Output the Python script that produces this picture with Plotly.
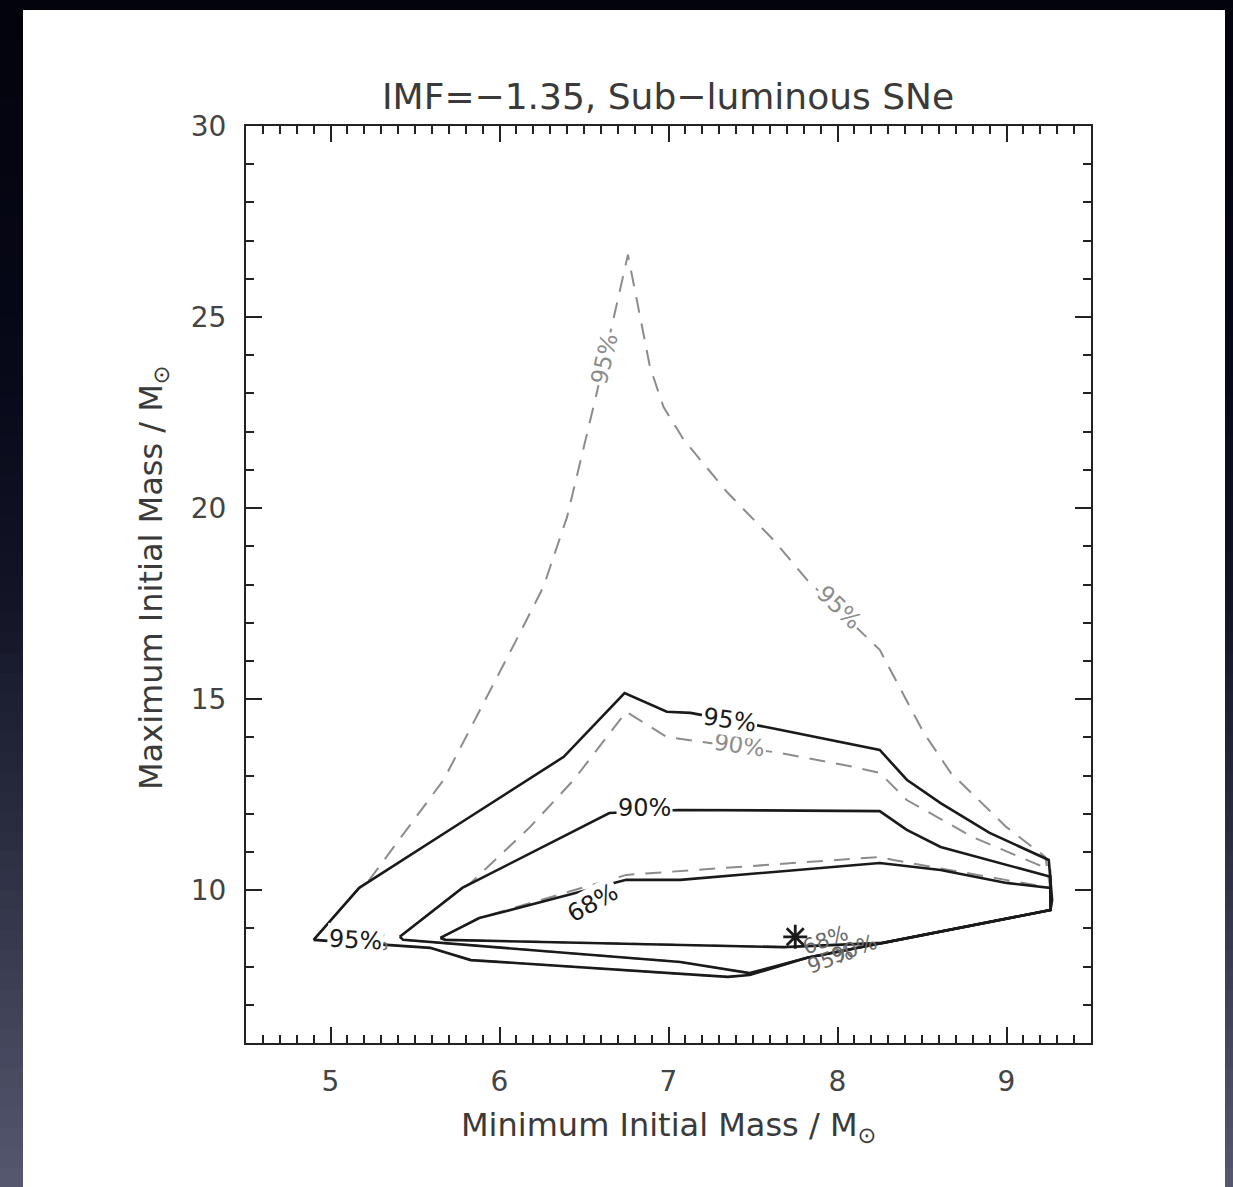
import plotly.graph_objects as go

# ---- contour paths (min initial mass, max initial mass) ----
# solid black: confidence regions of the fit
s95_x = [4.90, 5.17, 5.78, 6.38, 6.74, 6.99, 7.13, 7.60, 8.25, 8.41, 8.61, 8.90, 9.25, 9.27, 9.26, 7.82, 7.48, 7.35, 5.83, 5.59, 4.90]
s95_y = [8.70, 10.06, 11.79, 13.49, 15.16, 14.67, 14.64, 14.25, 13.67, 12.89, 12.28, 11.50, 10.79, 9.74, 9.48, 8.23, 7.78, 7.73, 8.17, 8.49, 8.70]

s90_x = [5.41, 5.78, 6.65, 7.06, 8.25, 8.41, 8.61, 8.90, 9.26, 9.26, 7.82, 7.48, 7.07, 5.43, 5.41]
s90_y = [8.78, 10.06, 12.02, 12.10, 12.07, 11.58, 11.13, 10.79, 10.35, 9.48, 8.23, 7.83, 8.12, 8.70, 8.78]

s68_x = [5.65, 5.88, 6.75, 7.07, 8.25, 8.61, 9.00, 9.26, 9.26, 8.27, 7.68, 5.68, 5.65]
s68_y = [8.75, 9.27, 10.27, 10.27, 10.71, 10.53, 10.19, 10.06, 9.48, 8.62, 8.51, 8.70, 8.75]

# dashed grey: the alternative model
d95_x = [4.90, 5.17, 5.23, 5.67, 6.10, 6.26, 6.40, 6.57, 6.76, 6.89, 6.97, 7.09, 7.35, 7.62, 7.82, 8.25, 8.51, 8.67, 9.00, 9.23, 9.27, 9.26, 7.82, 7.48, 7.35, 5.83, 5.59, 4.90]
d95_y = [8.70, 10.06, 10.27, 12.89, 16.55, 17.94, 19.77, 22.91, 26.63, 23.70, 22.65, 21.79, 20.40, 19.17, 18.12, 16.29, 14.12, 13.07, 11.65, 10.87, 9.74, 9.48, 8.23, 7.78, 7.73, 8.17, 8.49, 8.70]

d90_x = [5.41, 5.78, 5.83, 6.18, 6.44, 6.75, 6.99, 7.66, 8.09, 8.25, 8.41, 8.80, 9.26, 9.26, 7.82, 7.48, 7.07, 5.43, 5.41]
d90_y = [8.78, 10.06, 10.19, 11.65, 12.89, 14.67, 14.01, 13.59, 13.23, 13.07, 12.36, 11.39, 10.53, 9.48, 8.23, 7.83, 8.12, 8.70, 8.78]

d68_x = [5.65, 5.88, 6.75, 7.15, 8.25, 8.33, 9.26, 9.26, 8.27, 7.68, 5.68, 5.65]
d68_y = [8.75, 9.27, 10.40, 10.53, 10.87, 10.79, 10.06, 9.48, 8.62, 8.51, 8.70, 8.75]

# best-fit point
best_x = [7.75]
best_y = [8.78]

# contour level labels: (text, x, y, angle)
black_labels = [
    ("95%", 7.36, 14.45, 8),
    ("90%", 6.86, 12.15, 0),
    ("68%", 6.55, 9.67, -29),
    ("95%", 5.15, 8.70, 3),
]
grey_labels = [
    ("95%", 6.62, 23.90, -77),
    ("95%", 8.01, 17.41, 44),
    ("90%", 7.42, 13.80, 8),
]
grey_jumble = [
    ("95%", 5.21, 8.64, 3),
    ("68%", 7.93, 8.70, -20),
    ("95%", 7.96, 8.20, -20),
    ("90%", 8.10, 8.45, -20),
]

x_ticks = [5, 6, 7, 8, 9]
y_ticks = [10, 15, 20, 25, 30]

title_text = "IMF=\u22121.35, Sub\u2212luminous SNe"
x_title = "Minimum Initial Mass / M<sub>\u2299</sub>"
y_title = "Maximum Initial Mass / M<sub>\u2299</sub>"

W, H = 1233, 1187
L, R, T, B = 246, 1091, 126, 1043  # plot box in pixels

BLACK = "#1a1a1a"
GREY = "#8c8c8c"
FONT = "DejaVu Sans"

fig = go.Figure()

for xs, ys in [(d95_x, d95_y), (d90_x, d90_y), (d68_x, d68_y)]:
    fig.add_trace(go.Scatter(x=xs, y=ys, mode="lines",
                             line=dict(color=GREY, width=2, dash="16px,11px"),
                             hoverinfo="skip", showlegend=False))
for xs, ys in [(s95_x, s95_y), (s90_x, s90_y), (s68_x, s68_y)]:
    fig.add_trace(go.Scatter(x=xs, y=ys, mode="lines",
                             line=dict(color=BLACK, width=2.6),
                             hoverinfo="skip", showlegend=False))
fig.add_trace(go.Scatter(x=best_x, y=best_y, mode="markers",
                         marker=dict(symbol="asterisk-open", size=20, color=BLACK,
                                     line=dict(color=BLACK, width=2.8)),
                         hoverinfo="skip", showlegend=False))

annotations = []
for txt, x, y, a in grey_jumble:
    annotations.append(dict(text=txt, x=x, y=y, xref="x", yref="y", showarrow=False,
                            textangle=a, font=dict(family=FONT, size=21, color="#6a6a6a")))
for txt, x, y, a in grey_labels:
    annotations.append(dict(text=txt, x=x, y=y, xref="x", yref="y", showarrow=False,
                            textangle=a, bgcolor="white", borderpad=1,
                            font=dict(family=FONT, size=23, color=GREY)))
for txt, x, y, a in black_labels:
    annotations.append(dict(text=txt, x=x, y=y, xref="x", yref="y", showarrow=False,
                            textangle=a, bgcolor="white", borderpad=1,
                            font=dict(family=FONT, size=24, color=BLACK)))


def px_to_paper(px, py):
    return (px - L) / (R - L), (B - py) / (B - T)


tx, ty = px_to_paper(668, 97)
annotations.append(dict(text=title_text, x=tx, y=ty, xref="paper", yref="paper",
                        showarrow=False, xanchor="center", yanchor="middle",
                        font=dict(family=FONT, size=36, color="#3a3a3a")))
ax_, ay_ = px_to_paper(668, 1127)
annotations.append(dict(text=x_title, x=ax_, y=ay_, xref="paper", yref="paper",
                        showarrow=False, xanchor="center", yanchor="middle",
                        font=dict(family=FONT, size=32, color="#3a3a3a")))
bx_, by_ = px_to_paper(153, 578)
annotations.append(dict(text=y_title, x=bx_, y=by_, xref="paper", yref="paper",
                        showarrow=False, xanchor="center", yanchor="middle", textangle=-90,
                        font=dict(family=FONT, size=32, color="#3a3a3a")))

# dark backdrop with a vertical gradient, and the white page on top of it
stops = [(0.0, (3, 3, 12)), (0.3, (7, 8, 24)), (0.5, (18, 20, 38)),
         (0.7, (42, 44, 64)), (1.0, (86, 88, 112))]


def grad(t):
    for (t0, c0), (t1, c1) in zip(stops[:-1], stops[1:]):
        if t <= t1:
            f = (t - t0) / (t1 - t0)
            return "rgb(%d,%d,%d)" % tuple(round(a + (b - a) * f) for a, b in zip(c0, c1))
    return "rgb(%d,%d,%d)" % stops[-1][1]


shapes = []
nb = 60
for i in range(nb):
    y0p, y1p = H * i / nb, H * (i + 1) / nb + 1
    x0, y0 = px_to_paper(0, y1p)
    x1, y1 = px_to_paper(W, y0p)
    shapes.append(dict(type="rect", xref="paper", yref="paper", x0=x0, x1=x1, y0=y0, y1=y1,
                       fillcolor=grad((i + 0.5) / nb), line=dict(width=0), layer="below"))
x0, y0 = px_to_paper(23, H + 2)
x1, y1 = px_to_paper(1225, 10)
shapes.append(dict(type="rect", xref="paper", yref="paper", x0=x0, x1=x1, y0=y0, y1=y1,
                   fillcolor="white", line=dict(width=0), layer="below"))

axis_common = dict(showgrid=False, zeroline=False, showline=True, linecolor="#222",
                   linewidth=2, mirror="allticks", ticks="inside", ticklen=16,
                   tickwidth=2, tickcolor="#222",
                   tickfont=dict(family=FONT, size=28, color="#444"))

fig.update_layout(
    width=W, height=H,
    margin=dict(l=L, r=W - R, t=T, b=H - B, pad=0),
    paper_bgcolor="rgb(5,5,16)", plot_bgcolor="white",
    xaxis=dict(range=[4.5, 9.5], tickvals=x_ticks, ticklabelstandoff=12,
               minor=dict(dtick=0.1, tick0=4.5, ticklen=8, tickwidth=1.6, tickcolor="#222",
                          ticks="inside"),
               **axis_common),
    yaxis=dict(range=[6, 30], tickvals=y_ticks, ticklabelstandoff=12,
               minor=dict(dtick=1, tick0=6, ticklen=8, tickwidth=1.6, tickcolor="#222",
                          ticks="inside"),
               **axis_common),
    annotations=annotations,
    shapes=shapes,
)

fig.write_html("out.html")
